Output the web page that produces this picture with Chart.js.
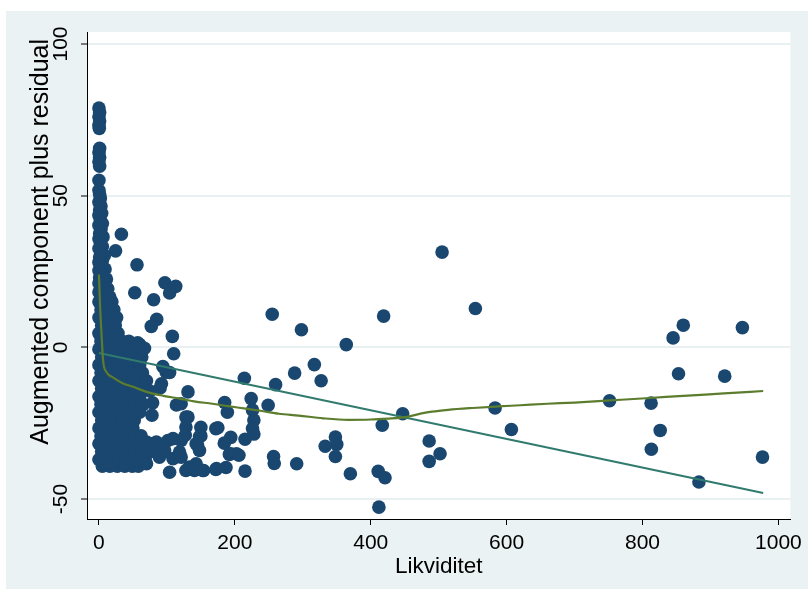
<!DOCTYPE html>
<html>
<head>
<meta charset="utf-8">
<script src="https://cdn.jsdelivr.net/npm/chart.js@4/dist/chart.umd.min.js"></script>
<style>
  html, body { margin: 0; padding: 0; background: #fff; }
  canvas { display: block; }
</style>
</head>
<body>
<canvas id="c" width="808" height="591"></canvas>
<script>
// Axis ticks
const xTicks = [0, 200, 400, 600, 800, 1000];
const yTicks = [-50, 0, 50, 100];

// Observations near zero liquidity: [Likviditet, residual]
const columnPoints = [
  [0,78.9],[1,77.4],[0,76],[1,74.6],[0,73.2],[0.5,72.2],
  [1,65.6],[0,64.2],[1,62.7],[0,61.2],[1,59.7],
  [0,55.1],
  [0,51.8],[1,50.5],[2,49.1],[0,47.8],[3,46.6],[1,45.3],[4,44.2],[0,43.5],[2,42],[5,40.8],
  [0,40.2],[3,38.9],[1,37.5],[6,36.4],[0,35.8],[2,34.4],[5,33.2],[0,32.6],[3,31.3],[8,30.3],
  [1,29.8],[5,28.6],[0,28],[2,26.7],[9,25.8],[0,25.3],[4,24.2],[1,23],[11,22.5],[6,21.6],
  [0,21.2],[3,19.9],[13,19.3],[8,18.6],[0,18.2],[5,17.1],[16,16.6]
];

// Dense block: residual level, then the Likviditet values observed at it
const clusterRows = [
  [15.0, [0,10,19]],
  [12.4, [3,13,22]],
  [9.8,  [0,9,19,26]],
  [7.2,  [4,14,24]],
  [4.6,  [0,10,20,28]],
  [2.0,  [3,13,24,34,44]],
  [-0.6, [0,9,19,29,38,48,58]],
  [-3.2, [4,14,24,34,44,54,63]],
  [-5.8, [0,10,20,30,40,50,60]],
  [-8.4, [3,13,23,33,43,53,64]],
  [-11.0,[0,10,20,30,40,50,60,70]],
  [-13.6,[4,14,24,34,44,54,66]],
  [-16.2,[0,10,20,30,40,50,60]],
  [-18.8,[3,13,23,33,43,53,65]],
  [-21.4,[0,10,20,30,40,50,60]],
  [-24.0,[4,14,24,34,44,52]],
  [-26.6,[0,10,20,30,40,50]],
  [-29.2,[3,13,23,33,43,53,62]],
  [-31.8,[0,10,20,30,40,50,60,71,84]],
  [-34.4,[4,14,24,34,44,54,64,76,96]],
  [-37.0,[0,10,20,30,40,50,60,68]],
  [-39.2,[5,16,27,38,49,58]]
];

// Scattered observations up to ~260
const spreadPoints = [
  [56,27.2],[33,37.3],[24.4,31.8],[52.7,18],[97,21.3],[113,20.1],[104,17.9],[80.5,15.7],
  [85,9.2],[77,6.9],[108,3.6],[110,-2.1],[48,-0.8],[64,-1],[60,0.9],[67,-0.3],[57,1.5],
  [99,-8.2],[104,-8.3],[94,-6.3],[92,-12],[90,-13.4],[75,-14.4],[79,-18.3],[78,-22.4],
  [131,-14.7],[114,-19],[121,-18.6],[128,-23],[131,-23],[128,-26.3],[150,-26.4],[150,-29.2],
  [172,-26.8],[175,-26.5],[185,-18.2],[189,-21.4],[194,-29.7],[184.5,-31.6],
  [70,-31.2],[84.5,-31.2],[96.6,-34],[67,-37.8],[77,-31.8],[89,-32.9],[101.5,-30.7],
  [118.6,-34.5],[121,-36.2],[109,-36.7],[109,-30.1],[89,-36.2],[70,-38.4],[133,-39.5],
  [104,-41.2],[128,-40.6],[140.5,-40.6],[152.7,-40.6],[172,-40.3],[187,-39.6],[194,-35.1],
  [202.5,-35.1],[192,-35.3],[143,-31.8],[148,-34],[145,-32.3],[121,-30.7],[148,-29.4],
  [127,-29],[143,-38.4],[154,-40.6],[173,-40],[131,-40.2]
];

// Observations with larger liquidity
const outlierPoints = [
  [214,-10.2],[224,-16.9],[226,-20.7],[228,-24],[226,-26.8],[228,-28.6],[215,-30.3],
  [206,-35.6],[215,-40.8],[255,10.9],[260,-12.3],[249,-19.1],[257,-36],[258,-38.3],
  [288,-8.5],[298,5.8],[291,-38.4],[317,-5.7],[327,-11],[333,-32.6],[348,-29.6],[350,-32],
  [348,-36],[364,0.9],[370,-41.7],[411,-40.9],[421,-43],[412,-52.7],[417,-25.7],[419,10.3],
  [447,-21.9],[486,-30.9],[502,-35.1],[486,-37.6],[505,31.4],[554,12.8],[583,-20],[607,-27.1],
  [751.5,-17.6],[812.6,-18.4],[826,-27.4],[813,-33.6],[845,3.1],[860,7.3],[853,-8.7],
  [883,-44.4],[921,-9.5],[947,6.5],[976.6,-36.2]
];

// Linear fit (endpoints over the data range)
const fitLine = [[0,-1.9],[977.6,-48]];

// Lowess smooth
const lowessCurve = [
  [0,24],[1.5,14.4],[4,3.4],[6.3,-4.8],[11,-8.1],[21,-10],[35.6,-11.9],[50,-13],[70,-14.7],
  [95,-16],[118.6,-16.9],[140,-17.8],[167,-18.6],[190,-19.4],[216,-20.2],[240,-21],[265,-21.9],
  [294,-22.5],[330,-23.4],[367,-23.9],[400,-23.8],[426,-23.5],[445,-23.2],[460,-22.6],
  [475,-21.8],[490,-21.2],[514,-20.6],[550,-20],[587,-19.5],[620,-19.1],[660,-18.6],
  [700,-18.2],[752,-17.5],[811,-16.7],[860,-16],[920,-15.2],[977.6,-14.4]
];

const toXY = arr => arr.map(([x, y]) => ({ x, y }));
const clusterPoints = [];
clusterRows.forEach(([y, xs]) => xs.forEach(x => clusterPoints.push({ x, y })));
const scatterData = [
  ...toXY(columnPoints), ...clusterPoints, ...toXY(spreadPoints), ...toXY(outlierPoints)
];

const FAMILY = "'Liberation Sans', Arial, sans-serif";
const TICK_FONT = { family: FAMILY, size: 21 };
const BG = 'rgb(234,242,243)';

// Light graph region with a white plot region
const framePlugin = {
  id: 'frame',
  beforeDraw(chart) {
    const { ctx, chartArea: a, width, height } = chart;
    ctx.save();
    ctx.fillStyle = '#fff';
    ctx.fillRect(0, 0, width, height);
    ctx.fillStyle = BG;
    ctx.fillRect(6, 11, width - 6, height - 13);
    ctx.fillStyle = '#fff';
    ctx.fillRect(a.left, a.top, a.right - a.left, a.bottom - a.top);
    ctx.restore();
  }
};

new Chart(document.getElementById('c'), {
  type: 'scatter',
  data: {
    datasets: [
      {
        label: 'Lowess',
        data: toXY(lowessCurve),
        showLine: true,
        borderColor: 'rgb(92,125,45)',
        borderWidth: 2.2,
        pointRadius: 0,
        cubicInterpolationMode: 'monotone',
        order: 0
      },
      {
        label: 'Linear fit',
        data: toXY(fitLine),
        showLine: true,
        borderColor: 'rgb(48,122,110)',
        borderWidth: 2,
        pointRadius: 0,
        order: 1
      },
      {
        label: 'Residual',
        data: scatterData,
        backgroundColor: '#1a476f',
        borderWidth: 0,
        pointRadius: 6.8,
        pointHoverRadius: 6.8,
        order: 2
      }
    ]
  },
  options: {
    responsive: false,
    animation: false,
    events: [],
    layout: { padding: { left: 0, right: 14, top: 32, bottom: 0 } },
    plugins: { legend: { display: false }, tooltip: { enabled: false } },
    scales: {
      x: {
        type: 'linear',
        min: -17.6,
        max: 1017.6,
        afterBuildTicks: s => { s.ticks = xTicks.map(v => ({ value: v })); },
        afterFit: s => { s.height = 72; },
        grid: { drawOnChartArea: false, drawTicks: true, tickLength: 6, tickColor: '#000', tickWidth: 1 },
        border: { display: true, color: '#000', width: 1 },
        ticks: { autoSkip: false, maxRotation: 0, color: '#000', font: TICK_FONT, padding: 6,
                 callback: v => String(v) },
        title: { display: true, text: 'Likviditet', color: '#000', font: { family: FAMILY, size: 22.5 },
                 padding: { top: 0, bottom: 11 } }
      },
      y: {
        type: 'linear',
        min: -56.6,
        max: 103.96,
        afterBuildTicks: s => { s.ticks = yTicks.map(v => ({ value: v })); },
        afterFit: s => { s.width = 87; },
        grid: { color: 'rgb(232,240,242)', lineWidth: 2, drawTicks: true, tickLength: 6, tickColor: '#000', tickWidth: 1 },
        border: { display: true, color: '#000', width: 1 },
        ticks: { autoSkip: false, minRotation: 90, maxRotation: 90, crossAlign: 'center', color: '#000', font: TICK_FONT, padding: 2,
                 callback: v => String(v) },
        // trailing space keeps the end of the title a little below the top of the axis
        title: { display: true, text: 'Augmented component plus residual ', color: '#000', align: 'end',
                 font: { family: FAMILY, size: 25 }, padding: { top: 26, bottom: 0 } }
      }
    }
  },
  plugins: [framePlugin]
});
</script>
</body>
</html>
